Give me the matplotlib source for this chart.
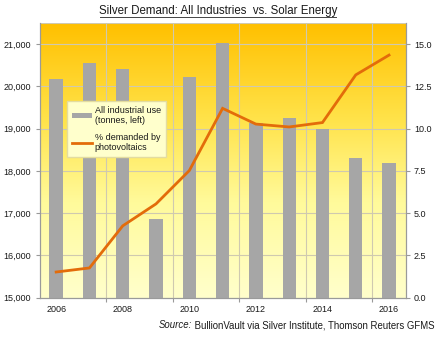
import numpy as np
import matplotlib
matplotlib.use("Agg")
import matplotlib.pyplot as plt
from matplotlib.colors import LinearSegmentedColormap
from matplotlib.lines import Line2D
from matplotlib.patches import Patch

plt.rcParams['font.family'] = ['Liberation Sans', 'DejaVu Sans']

years = [2006, 2007, 2008, 2009, 2010, 2011, 2012, 2013, 2014, 2015, 2016]
industrial_tonnes = [20180, 20560, 20415, 16870, 20225, 21025, 19130, 19250, 19000, 18300, 18195]
pv_share_pct = [1.52, 1.76, 4.25, 5.55, 7.52, 11.2, 10.27, 10.1, 10.36, 13.18, 14.35]
left_ticks = [15000, 16000, 17000, 18000, 19000, 20000, 21000]
right_ticks = [0.0, 2.5, 5.0, 7.5, 10.0, 12.5, 15.0]

BAR = "#A6A6A6"
LINE = "#E36C0A"
GRID = "#CFC9B0"
TXT = "#1a1a1a"

fig = plt.figure(figsize=(4.40, 3.38), dpi=100)
ax = fig.add_axes([0.0898, 0.1192, 0.8322, 0.8128])
ax2 = ax.twinx()

# warm vertical gradient behind the plot area
cmap = LinearSegmentedColormap.from_list(
    "warm", [(0.0, "#FFFFCC"), (0.35, "#FFFA9A"), (0.65, "#FFE34A"), (1.0, "#FFC000")])
grad = np.linspace(0, 1, 256).reshape(-1, 1)
ax.imshow(grad, extent=[0, 1, 0, 1], transform=ax.transAxes, aspect="auto",
          cmap=cmap, origin="lower", zorder=0)

x = np.arange(len(years))
ax.bar(x, industrial_tonnes, width=0.4, color=BAR, zorder=3)
ax2.plot(x, pv_share_pct, color=LINE, lw=2.0, zorder=4, solid_joinstyle="miter")

ax.set_xlim(-0.5, len(years) - 0.5)
ax.set_ylim(15000, 21500)
ax2.set_ylim(0, 16.25)
ax.set_yticks(left_ticks)
ax.set_yticklabels([f"{v:,}" for v in left_ticks])
ax2.set_yticks(right_ticks)
ax2.set_yticklabels([f"{v:.1f}" for v in right_ticks])

# tick marks at category boundaries, labels at category centres
bounds = np.arange(1.5, len(years) - 0.5, 2)
ax.set_xticks(bounds)
ax.set_xticklabels([])
ax.set_xticks(x[::2], minor=True)
ax.set_xticklabels([str(y) for y in years[::2]], minor=True)
ax.tick_params(axis="x", which="minor", length=0, pad=5, labelsize=6.5, colors=TXT)
ax.tick_params(axis="x", which="major", length=3, color="#999999")
ax.tick_params(axis="y", length=3, color="#999999", labelsize=6.5, labelcolor=TXT, pad=3)
ax2.tick_params(axis="y", length=3, color="#999999", labelsize=6.5, labelcolor=TXT, pad=3)

ax.set_axisbelow(False)
for v in left_ticks:
    ax.axhline(v, color=GRID, lw=0.8, zorder=1)
ax.axhline(21500, color=GRID, lw=0.8, zorder=1)
for b in bounds:
    ax.axvline(b, color=GRID, lw=0.8, zorder=1)

for a in (ax, ax2):
    a.spines["top"].set_visible(False)
    for s in ("left", "right", "bottom"):
        a.spines[s].set_color("#9a9a9a")
        a.spines[s].set_linewidth(0.8)
ax2.patch.set_visible(False)

handles = [Patch(facecolor=BAR, edgecolor="none"),
           Line2D([0], [0], color=LINE, lw=2)]
labels = ["All industrial use\n(tonnes, left)", "% demanded by\nphotovoltaics"]
leg = ax2.legend(handles, labels, loc="upper left", bbox_to_anchor=(0.063, 0.733),
                 fontsize=6.5, frameon=True, fancybox=False, handlelength=2.2,
                 handleheight=0.5, labelspacing=0.85, borderpad=0.55, handletextpad=0.3)
leg.get_frame().set_facecolor("#FFFFCC")
leg.get_frame().set_edgecolor("#E3DCA0")
leg.get_frame().set_alpha(1)
leg.get_frame().set_linewidth(1.0)
for t in leg.get_texts():
    t.set_color(TXT)

fig.text(0.496, 0.967, "Silver Demand: All Industries  vs. Solar Energy",
         ha="center", va="center", fontsize=8.3, color=TXT)
title_line_y = 0.951
fig.add_artist(Line2D([0.228, 0.764], [title_line_y, title_line_y],
                      transform=fig.transFigure, color="#444444", lw=0.7))

src = fig.text(0.988, 0.038, " BullionVault via Silver Institute, Thomson Reuters GFMS",
               ha="right", va="center", fontsize=6.9, color=TXT)
ax.annotate("Source:", xy=(0, 0.5), xycoords=src, ha="right", va="center",
            fontsize=6.9, fontstyle="italic", color=TXT, annotation_clip=False)

fig.savefig("out.png", dpi=100)
